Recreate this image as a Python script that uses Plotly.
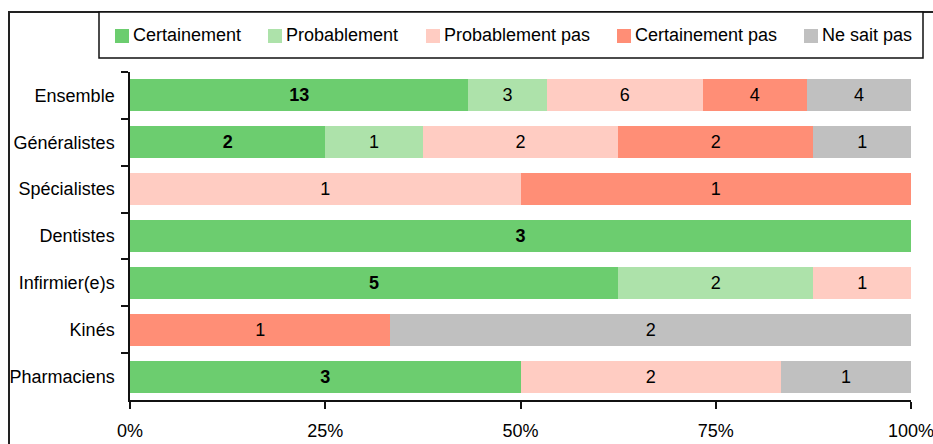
import plotly.graph_objects as go

# Survey answers by professional group (counts of respondents)
categories = ["Ensemble", "Généralistes", "Spécialistes", "Dentistes",
              "Infirmier(e)s", "Kinés", "Pharmaciens"]
series_names = ["Certainement", "Probablement", "Probablement pas",
                "Certainement pas", "Ne sait pas"]
certainement = [13, 2, 0, 3, 5, 0, 3]
probablement = [3, 1, 0, 0, 2, 0, 0]
probablement_pas = [6, 2, 1, 0, 1, 0, 2]
certainement_pas = [4, 2, 1, 0, 0, 1, 0]
ne_sait_pas = [4, 1, 0, 0, 0, 2, 1]
tick_values = [0, 25, 50, 75, 100]

series_counts = [certainement, probablement, probablement_pas,
                 certainement_pas, ne_sait_pas]
colors = ["#6CCD6F", "#ADE2AA", "#FFCCC2", "#FF8E76", "#C0C0C0"]

FONT = "Liberation Sans, Arial, sans-serif"
FS = 18

totals = [sum(v) for v in zip(*series_counts)]

fig = go.Figure()
for i, (name, counts) in enumerate(zip(series_names, series_counts)):
    pct = [c / t * 100 for c, t in zip(counts, totals)]
    labels = [str(c) if c > 0 else "" for c in counts]
    fig.add_trace(go.Bar(
        name=name,
        y=categories,
        x=pct,
        orientation="h",
        marker=dict(color=colors[i], line=dict(width=0)),
        text=labels,
        texttemplate="<b>%{text}</b>" if i == 0 else "%{text}",
        textposition="inside",
        insidetextanchor="middle",
        textangle=0,
        constraintext="none",
        insidetextfont=dict(family=FONT, size=FS, color="black"),
        hoverinfo="skip",
        showlegend=False,
    ))

# Plot area geometry in pixels (used to place paper-referenced shapes)
L, R, T, B = 130, 911, 72, 400
W, H = R - L, B - T


def px(x):
    return (x - L) / W


def py(y):
    return (B - y) / H


shapes = [
    # outer frame
    dict(type="rect", xref="paper", yref="paper",
         x0=px(9), x1=px(945), y0=py(460), y1=py(12),
         line=dict(color="#222222", width=2), fillcolor="rgba(0,0,0,0)"),
    # legend box
    dict(type="rect", xref="paper", yref="paper",
         x0=px(99), x1=px(923), y0=py(58), y1=py(12),
         line=dict(color="#111111", width=1.5), fillcolor="white"),
]
annotations = []

# Legend entries: swatch left edge positions
swatch_x = [115, 268, 426, 617, 804]
for name, color, sx in zip(series_names, colors, swatch_x):
    shapes.append(dict(type="rect", xref="paper", yref="paper",
                       x0=px(sx), x1=px(sx + 14), y0=py(43), y1=py(29),
                       line=dict(width=0), fillcolor=color))
    annotations.append(dict(xref="paper", yref="paper", x=px(sx + 16), y=py(34.5),
                            text=name, showarrow=False, xanchor="left",
                            yanchor="middle",
                            font=dict(family=FONT, size=FS, color="black")))

fig.update_layout(
    barmode="stack",
    bargap=0.317,
    width=933,
    height=444,
    margin=dict(l=L, r=933 - R, t=T, b=444 - B, pad=0, autoexpand=False),
    plot_bgcolor="white",
    paper_bgcolor="white",
    font=dict(family=FONT, size=FS, color="black"),
    shapes=shapes,
    annotations=annotations,
    showlegend=False,
    xaxis=dict(
        range=[0, 100],
        tickvals=tick_values,
        ticktext=[f"{v}%" for v in tick_values],
        showgrid=False,
        zeroline=False,
        showline=True,
        linecolor="#111111",
        linewidth=1.5,
        ticks="outside",
        ticklen=7,
        tickcolor="#111111",
        tickwidth=1.5,
        ticklabelstandoff=7,
        ticklabeloverflow="allow",
        tickfont=dict(family=FONT, size=FS),
        automargin=False,
        fixedrange=True,
    ),
    yaxis=dict(
        categoryorder="array",
        categoryarray=categories,
        autorange="reversed",
        showgrid=False,
        showline=True,
        linecolor="#111111",
        linewidth=1.5,
        ticks="outside",
        tickson="boundaries",
        ticklen=7,
        tickcolor="#111111",
        tickwidth=1.5,
        ticklabelstandoff=10,
        tickfont=dict(family=FONT, size=FS),
        automargin=False,
        fixedrange=True,
    ),
)

fig.write_html("out.html", config={"displayModeBar": False})
